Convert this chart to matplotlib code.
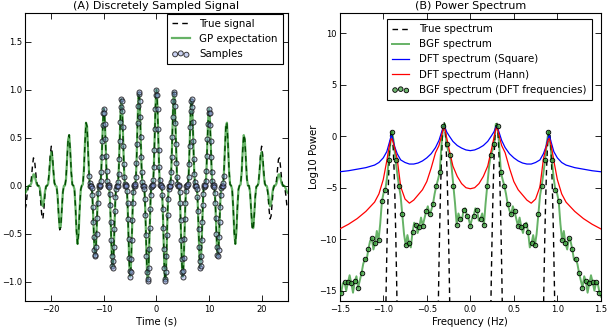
import numpy as np
import matplotlib
matplotlib.use("Agg")
import matplotlib.pyplot as plt

# ---------------- Panel A : discretely sampled signal ----------------
sample_time = np.round(np.linspace(-12.8, 12.8, 257), 2)
sample_value = [
    0.097, 0.027, 0.000, 0.000, 0.000, -0.027, -0.100, -0.222, -0.377,
    -0.535, -0.665, -0.733, -0.722, -0.637, -0.498, -0.335, -0.185, -0.075, -0.015,
    0.002, -0.002, 0.005, 0.050, 0.147, 0.294, 0.468, 0.634, 0.755, 0.801,
    0.760, 0.645, 0.481, 0.305, 0.154, 0.053, 0.006, -0.002, 0.002, -0.016,
    -0.082, -0.206, -0.376, -0.564, -0.729, -0.834, -0.852, -0.780, -0.635, -0.450,
    -0.267, -0.122, -0.033, 0.000, 0.000, 0.000, 0.034, 0.125, 0.275, 0.466,
    0.661, 0.818, 0.900, 0.886, 0.780, 0.608, 0.408, 0.225, 0.090, 0.018,
    -0.002, 0.002, -0.006, -0.060, -0.177, -0.351, -0.557, -0.752, -0.893, -0.946,
    -0.897, -0.759, -0.565, -0.358, -0.180, -0.062, -0.006, 0.002, -0.003, 0.018,
    0.095, 0.237, 0.432, 0.647, 0.834, 0.951, 0.970, 0.886, 0.719, 0.509,
    0.302, 0.137, 0.037, 0.000, 0.000, 0.000, -0.038, -0.138, -0.304, -0.515,
    -0.729, -0.900, -0.988, -0.970, -0.853, -0.663, -0.444, -0.244, -0.098, -0.019,
    0.003, -0.002, 0.007, 0.064, 0.189, 0.375, 0.593, 0.799, 0.947,
    1.000, 0.947, 0.799, 0.593, 0.375, 0.189, 0.064, 0.007, -0.002, 0.003,
    -0.019, -0.098, -0.244, -0.444, -0.663, -0.853, -0.970, -0.988, -0.900, -0.729,
    -0.515, -0.304, -0.138, -0.038, 0.000, 0.000, 0.000, 0.037, 0.137, 0.302,
    0.509, 0.719, 0.886, 0.970, 0.951, 0.834, 0.647, 0.432, 0.237, 0.095,
    0.018, -0.003, 0.002, -0.006, -0.062, -0.180, -0.358, -0.565, -0.759, -0.897,
    -0.946, -0.893, -0.752, -0.557, -0.351, -0.177, -0.060, -0.006, 0.002, -0.002,
    0.018, 0.090, 0.225, 0.408, 0.608, 0.780, 0.886, 0.900, 0.818, 0.661,
    0.466, 0.275, 0.125, 0.034, 0.000, 0.000, 0.000, -0.033, -0.122, -0.267,
    -0.450, -0.635, -0.780, -0.852, -0.834, -0.729, -0.564, -0.376, -0.206, -0.082,
    -0.016, 0.002, -0.002, 0.006, 0.053, 0.154, 0.305, 0.481, 0.645, 0.760,
    0.801, 0.755, 0.634, 0.468, 0.294, 0.147, 0.050, 0.005, -0.002, 0.002,
    -0.015, -0.075, -0.185, -0.335, -0.498, -0.637, -0.722, -0.733, -0.665, -0.535,
    -0.377, -0.222, -0.100, -0.027, 0.000, 0.000, 0.000, 0.027, 0.097]

outer_time_left = np.round(np.linspace(-25.0, -13.0, 61), 2)
outer_time_right = np.round(np.linspace(13.0, 25.0, 61), 2)

true_left = [
    -0.249, -0.204, -0.098, -0.017, 0.001, 0.005, 0.070, 0.193, 0.289, 0.274,
    0.160, 0.044, 0.000, 0.000, -0.047, -0.177, -0.315, -0.346, -0.240, -0.090,
    -0.007, -0.001, 0.025, 0.149, 0.323, 0.411, 0.334, 0.160, 0.028, -0.001,
    -0.009, -0.112, -0.308, -0.460, -0.434, -0.253, -0.069, 0.000, 0.000, 0.072,
    0.273, 0.484, 0.529, 0.366, 0.137, 0.011, 0.001, -0.037, -0.221, -0.478,
    -0.607, -0.491, -0.233, -0.041, 0.001, 0.012, 0.160, 0.441, 0.655, 0.616,
    0.357]
true_right = [
    0.357, 0.616, 0.655, 0.441, 0.160, 0.012, 0.001, -0.041, -0.233, -0.491,
    -0.607, -0.478, -0.221, -0.037, 0.001, 0.011, 0.137, 0.366, 0.529, 0.484,
    0.273, 0.072, 0.000, 0.000, -0.069, -0.253, -0.434, -0.460, -0.308, -0.112,
    -0.009, -0.001, 0.028, 0.160, 0.334, 0.411, 0.323, 0.149, 0.025, -0.001,
    -0.007, -0.090, -0.240, -0.346, -0.315, -0.177, -0.047, 0.000, 0.000, 0.044,
    0.160, 0.274, 0.289, 0.193, 0.070, 0.005, 0.001, -0.017, -0.098, -0.204,
    -0.249]
gp_left = [
    -0.075, -0.063, -0.032, -0.006, 0.000, 0.002, 0.026, 0.075, 0.118, 0.115,
    0.069, 0.020, 0.000, 0.000, -0.024, -0.097, -0.183, -0.215, -0.156, -0.062,
    -0.005, -0.001, 0.019, 0.119, 0.268, 0.349, 0.291, 0.142, 0.025, -0.001,
    -0.008, -0.106, -0.293, -0.442, -0.419, -0.245, -0.067, 0.000, 0.000, 0.071,
    0.270, 0.479, 0.526, 0.366, 0.137, 0.011, 0.001, -0.037, -0.221, -0.478,
    -0.607, -0.491, -0.233, -0.041, 0.001, 0.012, 0.160, 0.441, 0.655, 0.616,
    0.357]
gp_right = [
    0.357, 0.616, 0.655, 0.441, 0.160, 0.012, 0.001, -0.041, -0.233, -0.491,
    -0.607, -0.478, -0.221, -0.037, 0.001, 0.011, 0.137, 0.366, 0.526, 0.479,
    0.270, 0.071, 0.000, 0.000, -0.067, -0.245, -0.419, -0.442, -0.293, -0.106,
    -0.008, -0.001, 0.025, 0.142, 0.291, 0.349, 0.268, 0.119, 0.019, -0.001,
    -0.005, -0.062, -0.156, -0.215, -0.183, -0.097, -0.024, 0.000, 0.000, 0.020,
    0.069, 0.115, 0.118, 0.075, 0.026, 0.002, 0.000, -0.006, -0.032, -0.063,
    -0.075]

# ---------------- Panel B : power spectrum (log10) ----------------
true_freq = [
    -0.976, -0.966, -0.956, -0.946, -0.936, -0.926, -0.916, -0.906, -0.896, -0.886,
    -0.876, -0.866, -0.856, -0.846, -0.836,
    -0.372, -0.362, -0.352, -0.342, -0.332, -0.322, -0.312, -0.302, -0.292, -0.282,
    -0.272, -0.262, -0.252, -0.242, -0.232,
    0.232, 0.242, 0.252, 0.262, 0.272, 0.282, 0.292, 0.302, 0.312, 0.322,
    0.332, 0.342, 0.352, 0.362, 0.372,
    0.836, 0.846, 0.856, 0.866, 0.876, 0.886, 0.896, 0.906, 0.916, 0.926,
    0.936, 0.946, 0.956, 0.966, 0.976]
true_logp = [
    -19.7, -14.3, -9.8, -6.1, -3.2, -1.15, 0.09, 0.50, 0.09, -1.15,
    -3.2, -6.1, -9.8, -14.3, -19.7,
    -18.8, -13.4, -8.9, -5.2, -2.3, -0.26, 0.98, 1.39, 0.98, -0.26,
    -2.3, -5.2, -8.9, -13.4, -18.8,
    -18.8, -13.4, -8.9, -5.2, -2.3, -0.26, 0.98, 1.39, 0.98, -0.26,
    -2.3, -5.2, -8.9, -13.4, -18.8,
    -19.7, -14.3, -9.8, -6.1, -3.2, -1.15, 0.09, 0.50, 0.09, -1.15,
    -3.2, -6.1, -9.8, -14.3, -19.7]

dft_freq = [
    -1.5, -1.4, -1.3, -1.2, -1.1, -1.05, -1.0, -0.96, -0.93, -0.91, -0.90, -0.89,
    -0.87, -0.84, -0.8, -0.75, -0.7, -0.65, -0.6, -0.55, -0.5, -0.45, -0.4, -0.36,
    -0.33, -0.31, -0.30, -0.29, -0.27, -0.24, -0.2, -0.15, -0.1, -0.05,
    0.0,
    0.05, 0.1, 0.15, 0.2, 0.24, 0.27, 0.29, 0.30, 0.31, 0.33, 0.36, 0.4, 0.45,
    0.5, 0.55, 0.6, 0.65, 0.7, 0.75, 0.8, 0.84, 0.87, 0.89, 0.90, 0.91, 0.93,
    0.96, 1.0, 1.05, 1.1, 1.2, 1.3, 1.4, 1.5]
dft_square = [
    -3.45, -3.35, -3.2, -3.05, -2.8, -2.55, -2.1, -1.5, -0.6, 0.05, 0.0, -0.3,
    -1.0, -1.7, -2.3, -2.55, -2.7, -2.7, -2.6, -2.4, -2.1, -1.7, -1.1, -0.4,
    0.4, 0.9, 0.95, 0.8, 0.4, 0.0, -0.5, -0.9, -1.15, -1.33,
    -1.40,
    -1.33, -1.15, -0.9, -0.5, 0.0, 0.4, 0.8, 0.95, 0.9, 0.4, -0.4, -1.1, -1.7,
    -2.1, -2.4, -2.6, -2.7, -2.7, -2.55, -2.3, -1.7, -1.0, -0.3, 0.0, 0.05, -0.6,
    -1.5, -2.1, -2.55, -2.8, -3.05, -3.2, -3.35, -3.45]
dft_hann = [
    -9.0, -8.55, -8.0, -7.3, -6.4, -5.6, -4.2, -2.4, -0.9, -0.25, -0.28, -0.5,
    -1.1, -2.2, -4.9, -6.1, -6.5, -6.2, -5.7, -5.2, -4.4, -3.1, -1.6, -0.9,
    0.1, 0.8, 0.85, 0.6, -0.2, -1.4, -2.9, -3.9, -4.6, -5.0,
    -5.1,
    -5.0, -4.6, -3.9, -2.9, -1.4, -0.2, 0.6, 0.85, 0.8, 0.1, -0.9, -1.6, -3.1,
    -4.4, -5.2, -5.7, -6.2, -6.5, -6.1, -4.9, -2.2, -1.1, -0.5, -0.28, -0.25, -0.9,
    -2.4, -4.2, -5.6, -6.4, -7.3, -8.0, -8.55, -9.0]

bgf_df = 1.0 / 25.6
bgf_circle_k = np.arange(-38, 39)
bgf_circle_logp = [
    -15.2, -14.2, -14.2, -14.3, -14.1, -14.7, -13.3, -11.9, -11.0, -9.9,
    -10.4, -10.1, -6.3, -5.2, -2.3, 0.45, -2.3, -4.8, -7.6, -10.6,
    -10.4, -9.3, -8.6, -8.8, -8.7, -7.3, -7.6, -6.6, -4.8, -3.5,
    0.95, -0.8, -1.8, -4.8, -8.6, -8.0, -7.2, -7.7,
    -8.7,
    -7.7, -7.2, -8.0, -8.6, -4.8, -1.8, -0.8, 0.95,
    -3.5, -4.8, -6.6, -7.6, -7.3, -8.7, -8.8, -8.6, -9.3, -10.4,
    -10.6, -7.6, -4.8, -2.3, 0.45, -2.3, -5.2, -6.3, -10.1, -10.4,
    -9.9, -11.0, -11.9, -13.3, -14.7, -14.1, -14.3, -14.2, -14.2, -15.2]
bgf_between_logp = [
    -15.6, -14.3, -15.0, -13.5, -15.2, -13.6, -14.0, -12.4, -12.0, -10.2,
    -11.0, -9.2, -8.5, -5.5, -4.0, -0.7, -0.6, -3.6, -5.8, -9.5,
    -9.6, -10.8, -8.4, -9.4, -7.9, -8.0, -6.8, -7.2, -5.6, -4.2,
    -0.9, 1.2, -1.4, -3.0, -6.5, -7.5, -8.2, -7.0, -8.0,
    -8.0, -7.0, -8.2, -7.5, -6.5, -3.0, -1.4, 1.2, -0.9,
    -4.2, -5.6, -7.2, -6.8, -8.0, -7.9, -9.4, -8.4, -10.8, -9.6,
    -9.5, -5.8, -3.6, -0.6, -0.7, -4.0, -5.5, -8.5, -9.2, -11.0,
    -10.2, -12.0, -12.4, -14.0, -13.6, -15.2, -13.5, -15.0, -14.3, -15.6]

assert len(sample_value) == len(sample_time)
assert len(bgf_circle_logp) == 77 and len(bgf_between_logp) == 78
assert len(dft_freq) == len(dft_square) == len(dft_hann)

# ---------------- Figure ----------------
plt.rcParams.update({
    "font.family": "DejaVu Sans",
    "font.size": 7.3,
    "axes.linewidth": 0.8,
    "xtick.direction": "in",
    "ytick.direction": "in",
    "xtick.top": True,
    "ytick.right": True,
    "xtick.major.size": 4,
    "ytick.major.size": 4,
    "xtick.major.width": 0.6,
    "ytick.major.width": 0.6,
    "xtick.major.pad": 3,
    "ytick.major.pad": 2,
    "xtick.labelsize": 6.0,
    "ytick.labelsize": 6.0,
    "legend.fontsize": 7.4,
})

fig = plt.figure(figsize=(6.1, 3.3), dpi=100)
axA = fig.add_axes([0.041, 0.088, 0.431, 0.8735])
axB = fig.add_axes([0.557, 0.088, 0.428, 0.8735])

leg_kw = dict(scatterpoints=3, fancybox=False, framealpha=1, edgecolor="black",
              borderaxespad=0.0, handlelength=1.7, handletextpad=0.95,
              borderpad=0.5, labelspacing=0.5)

# Panel A
t_true = np.concatenate([outer_time_left, sample_time, outer_time_right])
y_true = np.concatenate([true_left, sample_value, true_right])
y_gp = np.concatenate([gp_left, sample_value, gp_right])

axA.plot(t_true, y_true, "--", color="black", lw=1.0, dashes=(4, 3),
         label="True signal", zorder=2)
axA.plot(t_true, y_gp, "-", color="#008000", lw=1.6, alpha=0.6,
         label="GP expectation", zorder=3)
axA.scatter(sample_time, sample_value, s=13, facecolors=(0.55, 0.62, 0.9, 0.45),
            edgecolors=(0.1, 0.1, 0.1, 0.85), linewidths=0.7, label="Samples", zorder=4)
axA.set_xlim(-25, 25)
axA.set_ylim(-1.2, 1.8)
axA.set_xticks([-20, -10, 0, 10, 20])
axA.set_yticks([-1.0, -0.5, 0.0, 0.5, 1.0, 1.5])
axA.set_xlabel("Time (s)", labelpad=2)
axA.set_title("(A) Discretely Sampled Signal", fontsize=8, pad=3)
legA = axA.legend(loc="upper right", bbox_to_anchor=(0.981, 0.997), **leg_kw)
legA.get_frame().set_linewidth(0.8)

# Panel B
k_line = np.arange(-77, 78)
bgf_line_freq = k_line * bgf_df / 2.0
bgf_line = np.empty(155)
bgf_line[0::2] = bgf_between_logp
bgf_line[1::2] = bgf_circle_logp

axB.plot(true_freq, true_logp, "--", color="black", lw=1.0, dashes=(4, 3),
         label="True spectrum", zorder=2)
axB.plot(bgf_line_freq, bgf_line, "-", color="#008000", lw=1.4, alpha=0.6,
         label="BGF spectrum", zorder=3)
axB.plot(dft_freq, dft_square, "-", color="blue", lw=0.9,
         label="DFT spectrum (Square)", zorder=4)
axB.plot(dft_freq, dft_hann, "-", color="red", lw=0.9,
         label="DFT spectrum (Hann)", zorder=4)
axB.scatter(bgf_circle_k * bgf_df, bgf_circle_logp, s=11,
            facecolors=(0.2, 0.6, 0.2, 0.7), edgecolors="black", linewidths=0.6,
            label="BGF spectrum (DFT frequencies)", zorder=5)
axB.set_xlim(-1.5, 1.5)
axB.set_ylim(-16, 12)
axB.set_xticks([-1.5, -1.0, -0.5, 0.0, 0.5, 1.0, 1.5])
axB.set_yticks([-15, -10, -5, 0, 5, 10])
axB.set_xlabel("Frequency (Hz)", labelpad=2)
axB.set_ylabel("Log10 Power", labelpad=0)
axB.set_title("(B) Power Spectrum", fontsize=8, pad=3)
legB = axB.legend(loc="upper right", bbox_to_anchor=(0.9655, 0.978), **leg_kw)
legB.get_frame().set_linewidth(0.8)

fig.savefig("out.png", dpi=100)
